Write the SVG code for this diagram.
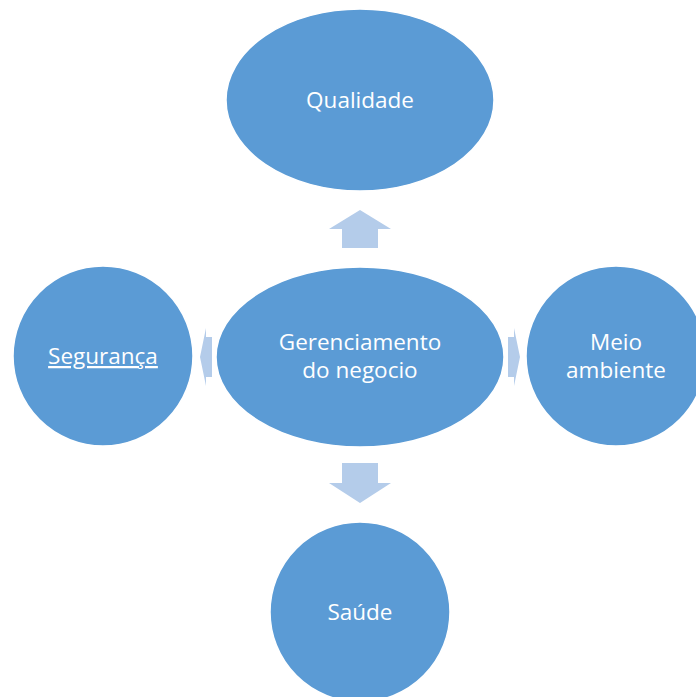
<svg xmlns="http://www.w3.org/2000/svg" width="696" height="697" viewBox="0 0 696 697">
<style>
.node{fill:#5B9BD5;stroke:#ffffff;stroke-width:1.5}
.arrow{fill:#B4CCEA}
.lbl{fill:#ffffff;font-family:"Open Sans","Liberation Sans",sans-serif;font-size:22.5px;text-anchor:middle}
</style>
<rect width="696" height="697" fill="#ffffff"/>
<g id="connectors">
<polygon class="arrow" points="360,210 391,229 378,229 378,248 342,248 342,229 329,229"/>
<polygon class="arrow" points="360,503 391,483 378,483 378,463 342,463 342,483 329,483"/>
<polygon class="arrow" points="200,357 206,328 206,337 212,337 212,377 206,377 206,386"/>
<polygon class="arrow" points="520,357 514,328 514,337 508,337 508,377 514,377 514,386"/>
</g>
<g id="qualidade">
<ellipse class="node" cx="360" cy="100" rx="134" ry="91"/>
<text class="lbl" x="360" y="108">Qualidade</text>
</g>
<g id="gerenciamento">
<ellipse class="node" cx="360" cy="357" rx="144" ry="90"/>
<text class="lbl" x="360" y="350">Gerenciamento</text>
<text class="lbl" x="360" y="378">do negocio</text>
</g>
<g id="seguranca">
<circle class="node" cx="103" cy="356" r="90"/>
<text class="lbl" x="103" y="364" text-decoration="underline">Segurança</text>
</g>
<g id="meio-ambiente">
<circle class="node" cx="616" cy="356" r="90"/>
<text class="lbl" x="616" y="350">Meio</text>
<text class="lbl" x="616" y="378">ambiente</text>
</g>
<g id="saude">
<circle class="node" cx="360" cy="612" r="90"/>
<text class="lbl" x="360" y="620">Saúde</text>
</g>
</svg>
